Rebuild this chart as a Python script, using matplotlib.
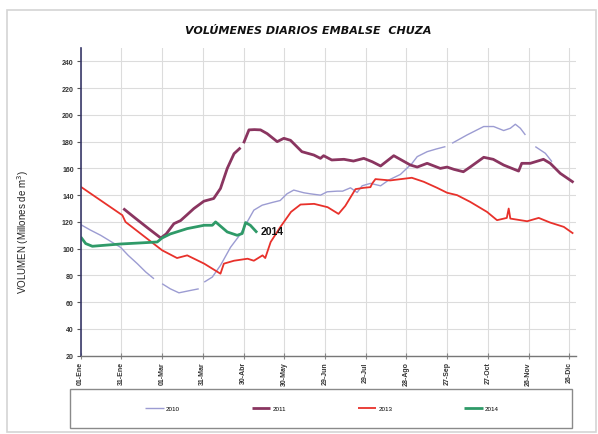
import numpy as np
import matplotlib
matplotlib.use("Agg")
import matplotlib.pyplot as plt
from matplotlib.patches import Rectangle

nan = np.nan

# ---- data (day of year from 01-Ene, volume in millions m3) ----
days_2010 = [0, 7, 14.7, 22, 29.4, 35, 41.7, 48, 54, 57, 60, 66, 72.4, 81, 87, 89, 91, 97, 103,
             110.4, 117.8, 122.7, 127.6, 133.7, 141, 147, 152, 157, 164.4, 169.3, 176.7, 181.6,
             189, 193, 198.8, 203.7, 207.4, 213.5, 221, 227, 235.6, 244.2, 248, 255.3, 262,
             268.8, 271, 273.7, 284.7, 297, 304.3, 311.7, 316.6, 320.3, 324, 327.7, 331, 335,
             342.4, 347.3]
vol_2010 = [118, 114, 110, 105.5, 101, 95, 88.8, 82.5, 77.5, nan, 73.8, 70, 67, 68.8, 70, nan, 75,
            78.8, 87.5, 101, 111, 120, 128.8, 132.5, 134.5, 136, 141, 143.8, 141.8, 141, 140,
            142.5, 143, 143, 145.5, 142, 147, 148.8, 147, 151.3, 155.5, 163.8, 168.8, 172.5,
            174.5, 176.3, nan, 178.8, 185, 191.3, 191.3, 188.3, 190, 193, 190, 185, nan, 176.3,
            171.3, 165]

days_2011 = [31.4, 40, 50, 59, 63, 68.7, 73.6, 78, 83.4, 90.8, 98, 103, 108, 113, 117.8, 119,
             120, 124, 128, 132.5, 137.4, 144.8, 149.7, 154.6, 163, 171.8, 176.7, 179, 185, 194,
             201, 208.6, 214.8, 221, 230.7, 243, 248, 255.3, 265, 270, 275, 282, 287, 297, 304,
             311.7, 322.7, 325, 331.3, 341, 346, 353.4, 363.2]
vol_2011 = [130, 123, 115, 108, 111, 118.7, 121, 125, 130, 135.5, 137.5, 145, 160, 171, 175.5, nan,
            178.8, 188.8, 189, 188.8, 186, 180, 182.5, 181, 172.5, 170, 167.5, 169.5, 166.3,
            166.8, 165.5, 167.5, 165, 161.8, 169.5, 162.5, 161, 163.8, 160, 161, 159.3, 157.5,
            161, 168.3, 166.8, 162.5, 158, 163.8, 163.8, 166.8, 163.8, 156.3, 149.5]

days_2013 = [0, 30.7, 33, 60, 71, 78.5, 91, 103, 105.5, 113, 123, 127.6, 134, 136, 140, 147, 155,
             162, 172, 182, 190, 195, 202.5, 208.6, 213.5, 214.8, 217.2, 228, 244, 252.8, 262.6,
             270, 277.4, 287, 299.4, 306.8, 314, 315.4, 316.6, 329, 337.5, 346, 356, 363]
vol_2013 = [146.3, 125, 120, 98.8, 93, 95, 88.8, 81.3, 88.8, 91, 92.5, 91, 95, 93, 105, 116,
            127.5, 133, 133.5, 131, 126, 132, 144.5, 145.5, 146, 148.7, 152, 151, 153, 150,
            145.5, 141.8, 140, 135, 127.5, 121.3, 123, 130, 122.5, 120.5, 123, 119.5, 116.3,
            111.3]

days_2014 = [0, 3.7, 8.6, 17, 29.4, 44, 56.4, 60, 66, 78.5, 91, 97, 99.4, 108, 115.3, 119, 121.5,
             125, 130]
vol_2014 = [108.8, 103.8, 101.8, 102.5, 103.5, 104.3, 105, 108, 111, 115, 117.5, 117.5, 120,
            112.5, 110, 111.3, 119.5, 117.5, 112]

series_names = ["2010", "2011", "2013", "2014"]
tick_days = [0, 30, 60, 90, 120, 150, 180, 210, 240, 270, 300, 330, 360]
tick_labels = ["01-Ene", "31-Ene", "01-Mar", "31-Mar", "30-Abr", "30-May", "29-Jun",
               "29-Jul", "28-Ago", "27-Sep", "27-Oct", "26-Nov", "26-Dic"]
y_ticks = list(range(20, 241, 20))

# ---- figure ----
W, H = 598, 435
fig = plt.figure(figsize=(W / 100, H / 100), dpi=100)
fig.patch.set_facecolor("white")

def fx(px):
    return px / W

def fy(py):
    return (H - py) / H

# outer frame
fig.patches.append(Rectangle((fx(7), fy(433)), fx(596) - fx(7), fy(11) - fy(433),
                             transform=fig.transFigure, fill=False, edgecolor="#d4d4d4",
                             linewidth=1.2, zorder=0))

ax = fig.add_axes([fx(80.7), fy(356.7), fx(576) - fx(80.7), fy(49) - fy(356.7)])
ax.set_xlim(0, 365)
ax.set_ylim(20, 250)

colors = ["#9c9cd2", "#8a3560", "#e8312b", "#2f9a68"]
widths = [1.0, 2.0, 1.3, 2.0]
data = [(days_2010, vol_2010), (days_2011, vol_2011), (days_2013, vol_2013), (days_2014, vol_2014)]
handles = []
for (d, v), c, lw, name in zip(data, colors, widths, series_names):
    h, = ax.plot(d, v, color=c, lw=lw, label=name, solid_capstyle="butt")
    handles.append(h)

ax.text(132.5, 113.5, "2014", fontsize=7.5, fontweight="bold", family="Liberation Sans",
        color="#111111", va="center", ha="left")

ax.set_xticks(tick_days)
ax.set_xticklabels(tick_labels, rotation=90, fontsize=5, fontweight="bold",
                   family="Liberation Sans", color="#333333")
ax.set_yticks(y_ticks)
ax.set_yticklabels([str(t) for t in y_ticks], fontsize=5, fontweight="bold",
                   family="Liberation Sans", color="#333333")
ax.tick_params(axis="y", direction="out", length=3, width=0.8, color="#555555", pad=2)
ax.tick_params(axis="x", direction="inout", length=4, width=0.8, color="#888888", pad=2)

ax.grid(True, color="#dcdcdc", linewidth=0.8)
ax.set_axisbelow(True)
for s in ["top", "right"]:
    ax.spines[s].set_visible(False)
ax.spines["left"].set_color("#3a3a6a")
ax.spines["left"].set_linewidth(1.2)
ax.spines["bottom"].set_color("#777777")
ax.spines["bottom"].set_linewidth(1.0)

fig.text(fx(308), fy(31), "VOLÚMENES DIARIOS EMBALSE  CHUZA", fontsize=8,
         fontweight="bold", style="italic", ha="center", va="center", color="#111111")
fig.text(fx(23), fy(232), "VOLUMEN (Millones de m$^3$)", rotation=90, fontsize=7,
         family="Liberation Sans", ha="center", va="center", color="#222222")

# legend box
fig.patches.append(Rectangle((fx(70), fy(429)), fx(572) - fx(70), fy(390) - fy(429),
                             transform=fig.transFigure, fill=False, edgecolor="#8a8a8a",
                             linewidth=1.0))
leg = fig.legend(handles=handles, loc="center", bbox_to_anchor=(fx(322), fy(409.5)),
                 ncol=4, frameon=False, prop={"family": "Liberation Sans", "size": 4.5},
                 handlelength=3.0, handletextpad=0.3, columnspacing=11.5)

fig.savefig("out.png", dpi=100)
